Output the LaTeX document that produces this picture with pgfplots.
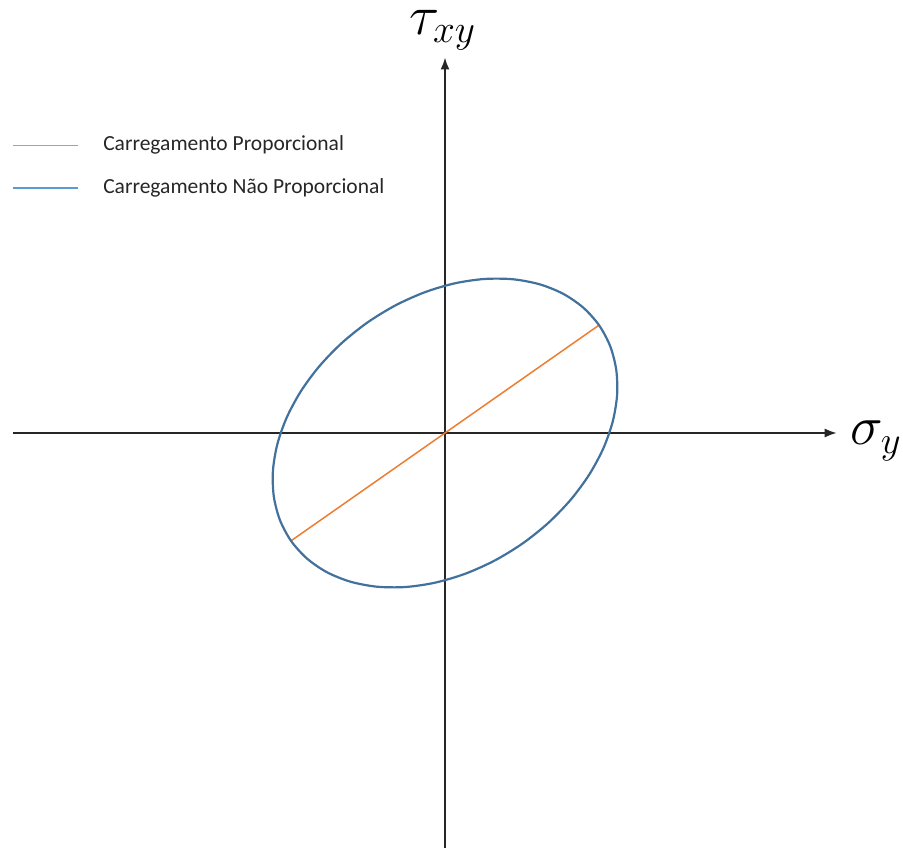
\RequirePackage{fix-cm}
\documentclass[border=0pt]{standalone}
\usepackage{fontspec}
\setmainfont{Carlito}
\usepackage{pgfplots}
\pgfplotsset{compat=1.18}
\usetikzlibrary{arrows.meta}

\definecolor{ellipseblue}{RGB}{65,113,156}
\definecolor{propor}{RGB}{237,125,49}
\definecolor{legorange}{RGB}{240,140,75}
\definecolor{legblue}{RGB}{91,155,213}
\definecolor{textgray}{RGB}{38,38,38}

% Non-proportional load path: ellipse in the (sigma_y, tau_xy) plane
\pgfplotstableread{
x y
1.5400 1.0783
1.3821 1.2539
1.1823 1.3915
0.9465 1.4868
0.6820 1.5369
0.3968 1.5403
0.0994 1.4969
-0.2009 1.4080
-0.4951 1.2763
-0.7743 1.1059
-1.0299 0.9019
-1.2543 0.6704
-1.4406 0.4185
-1.5830 0.1541
-1.6774 -0.1151
-1.7209 -0.3808
-1.7119 -0.6351
-1.6511 -0.8699
-1.5400 -1.0783
-1.3821 -1.2539
-1.1823 -1.3915
-0.9465 -1.4868
-0.6820 -1.5369
-0.3968 -1.5403
-0.0994 -1.4969
0.2009 -1.4080
0.4951 -1.2763
0.7743 -1.1059
1.0299 -0.9019
1.2543 -0.6704
1.4406 -0.4185
1.5830 -0.1541
1.6774 0.1151
1.7209 0.3808
1.7119 0.6351
1.6511 0.8699
}\ellipsedata

% Proportional load path: straight line through the origin
\pgfplotstableread{
x y
-1.5400 -1.0783
0 0
1.5400 1.0783
}\linedata

\begin{document}
\begin{tikzpicture}[x=1bp,y=1bp]
\useasboundingbox (0,0) rectangle (903,848);
\begin{axis}[
  at={(445bp,415bp)}, anchor=origin,
  scale only axis,
  width=824bp, height=790.5bp,
  xmin=-4.323, xmax=3.917,
  ymin=-4.15, ymax=3.755,
  axis lines=middle,
  axis line style={line width=1.7bp, color=black!85,
    -{Latex[length=12bp,width=9bp]}},
  xtick=\empty, ytick=\empty,
  clip=false,
  % a zero-length white stroke primes the graphics state of each key cell
  legend image code/.code={
    \draw[white, line width=0.1bp] (0bp,0bp) -- (0.01bp,0bp);
    \draw[#1] (0bp,0bp) -- (65.4bp,0bp);},
  legend style={at={(-0.0005,0.9011)}, anchor=north west,
    draw=none, fill=none, inner sep=0pt, outer sep=0pt,
    row sep=22.4bp, column sep=24bp,
    font=\fontsize{21.5bp}{24bp}\selectfont, text=textgray,
    nodes={inner sep=0pt, text height=15bp, text depth=5bp},
    cells={anchor=west}},
]
\addplot[color=propor, line width=1.5bp,
  legend image post style={draw=legorange, line width=1.6bp}]
  table {\linedata};
\addlegendentry{Carregamento Proporcional}
\addplot[color=ellipseblue, line width=2.2bp, smooth cycle,
  legend image post style={draw=legblue, line width=1.6bp}]
  table {\ellipsedata};
\addlegendentry{Carregamento Não Proporcional}
\end{axis}

% Axis symbols
\node[anchor=base west, inner sep=0pt]
  at (409bp,813.5bp) {\fontsize{56bp}{60bp}\selectfont$\tau_{xy}$};
\node[anchor=base west, inner sep=0pt]
  at (850bp,403bp) {\fontsize{55bp}{60bp}\selectfont$\sigma_{y}$};
\end{tikzpicture}
\end{document}
